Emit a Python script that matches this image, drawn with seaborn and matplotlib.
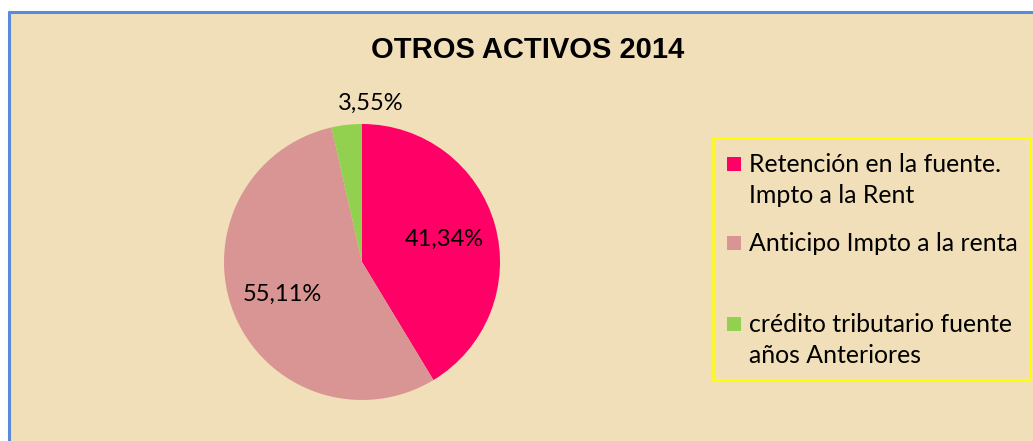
import matplotlib
matplotlib.use("Agg")
import matplotlib.pyplot as plt
import matplotlib.patches as patches
import seaborn as sns

# Data
categories = ["Retención en la fuente.\nImpto a la Rent",
              "Anticipo Impto a la renta",
              "crédito tributario fuente\naños Anteriores"]
shares = [41.34, 55.11, 3.55]
colors = ["#FF0066", "#D99594", "#92D050"]
title = "OTROS ACTIVOS 2014"

BG = "#F1DFB9"
LABEL_FONT = ["Lato", "DejaVu Sans"]

sns.set_theme(style="white")
plt.rcParams['font.family'] = LABEL_FONT

fig = plt.figure(figsize=(10.33, 4.41), dpi=100, facecolor="white")

# chart area background with blue frame on top / left
bg_ax = fig.add_axes([0, 0, 1, 1])
bg_ax.set_xlim(0, 1033)
bg_ax.set_ylim(441, 0)
bg_ax.axis("off")
bg_ax.add_patch(patches.Rectangle((9, 12), 1030, 440, facecolor=BG, edgecolor="none"))
bg_ax.plot([9, 1033], [12, 12], color="#5B8BD8", lw=2.2)
bg_ax.plot([9, 9], [12, 441], color="#5B8BD8", lw=2.2)

fig.text(528 / 1033, 1 - 50 / 441, title, ha="center", va="center",
         fontsize=21, fontweight="bold", family=["Liberation Sans", "DejaVu Sans"], color="black")

# Pie
ax = fig.add_axes([(362 - 138) / 1033, (441 - 400) / 441, 276 / 1033, 276 / 441])
ax.set_facecolor("none")


def fmt(p):
    return f"{p:.2f}%".replace(".", ",")


wedges, texts, autotexts = ax.pie(shares, colors=colors, startangle=90, counterclock=False,
                                  autopct=fmt, pctdistance=0.62,
                                  wedgeprops=dict(linewidth=0, edgecolor="none"),
                                  textprops=dict(fontsize=17, color="black"))
autotexts[2].set_position((0.06, 1.15))
ax.set_xlim(-1, 1)
ax.set_ylim(-1, 1)
ax.set_aspect("equal")

# Legend box (drawn by hand to follow the original spacing)
bg_ax.add_patch(patches.Rectangle((713, 138), 317, 242, facecolor="none",
                                  edgecolor="#FFFF00", lw=1.8))
entry_y = [164, 243, 324]
for lab, col, y in zip(categories, colors, entry_y):
    bg_ax.add_patch(patches.Rectangle((727, y - 7), 14, 14, facecolor=col, edgecolor="none"))
    bg_ax.text(749, y - 11, lab, ha="left", va="top", fontsize=17.9,
               linespacing=1.4, color="black")

fig.savefig("out.png", dpi=100, facecolor="white")
